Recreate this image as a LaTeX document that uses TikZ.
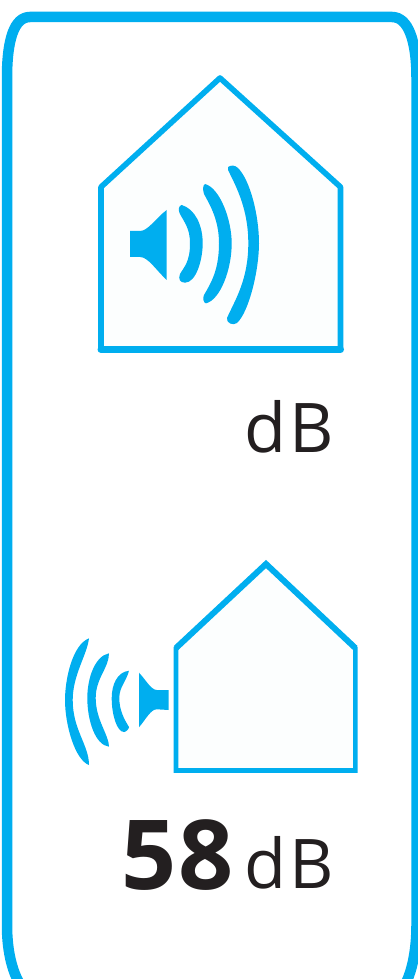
\documentclass[tikz,border=0pt]{standalone}
\usepackage{fontspec}
\usepackage{xcolor}
\setmainfont{Open Sans}
\definecolor{soundblue}{HTML}{00AEEF}
\definecolor{housefill}{HTML}{FCFEFE}
\definecolor{inktext}{HTML}{231F20}

\begin{document}
\begin{tikzpicture}[x=0.02cm, y=-0.02cm]
  \useasboundingbox (0,0) rectangle (418,979);
  \clip (0,0) rectangle (418,979);
  % outer frame, runs off the bottom and right edge
  \draw[soundblue, line width=10.5*0.02cm]
        (30,17) -- (392,17)
        .. controls (408,17) and (416.5,40) .. (416.5,78)
        -- (416.5,925)
        .. controls (416.5,960) and (408,990) .. (392,1000)
        -- (34,1000)
        .. controls (19,990) and (7,965) .. (7,925)
        -- (7,78)
        .. controls (7,40) and (14,17) .. (30,17) -- cycle;
  % upper house
  \draw[soundblue, fill=housefill, line width=5.6*0.02cm, line join=round]
        (220,78) -- (340.5,187) -- (340.5,349.5) -- (101,349.5) -- (101,187) -- cycle;
  \draw[soundblue, line width=7*0.02cm, line cap=round] (101,349.5) -- (340.5,349.5);
  % loudspeaker inside
  \fill[soundblue] (130,231) -- (140,231) .. controls (148,231) and (156,218) .. (166.7,210)
        -- (166.7,280) .. controls (156,270) and (148,257) .. (140,257) -- (130,257) -- cycle;
  \fill[soundblue] (181.7,205) .. controls (195,209) and (202.7,225) .. (202.7,243.3)
        .. controls (202.7,260) and (196,282.7) .. (185,282.7)
        .. controls (180,282.7) and (178,279) .. (180,274)
        .. controls (184,267) and (190,262) .. (190,243.3)
        .. controls (190,228) and (184,222) .. (179.5,213)
        .. controls (178,209) and (179,205.5) .. (181.7,205) -- cycle;
  \fill[soundblue] (205,184) .. controls (220,188) and (231.7,220) .. (231.7,243.3)
        .. controls (231.7,270) and (220,300) .. (206,303.3)
        .. controls (203.5,303.3) and (202.5,298) .. (204,295)
        .. controls (211,283) and (219,270) .. (219,243.3)
        .. controls (219,220) and (210,205) .. (204,194)
        .. controls (202.5,189) and (203,185) .. (205,184) -- cycle;
  \fill[soundblue] (228,167) .. controls (231,165) and (235,165) .. (238,168)
        .. controls (250,180) and (259,215) .. (259,243.3)
        .. controls (259,270) and (249,312) .. (237,323)
        .. controls (233,326) and (226,323) .. (227,318)
        .. controls (235,300) and (248.3,280) .. (248.3,243.3)
        .. controls (248.3,210) and (237,188) .. (228,170) -- cycle;
  % lower house
  \draw[soundblue, fill=housefill, line width=4.6*0.02cm]
        (266,564) -- (355.3,648) -- (355.3,770.5) -- (176,770.5) -- (176,648) -- cycle;
  \draw[soundblue, line width=6*0.02cm, line join=miter] (176,648) -- (266,564) -- (355.3,648);
  % loudspeaker outside
  \fill[soundblue] (168.7,690) -- (168.7,710) -- (157,709.3)
        .. controls (151,709) and (146,719) .. (139,727.3)
        -- (139,672.7) .. controls (146,680) and (151,690) .. (157,690) -- cycle;
  \fill[soundblue] (129,670.7) .. controls (117,672) and (111.7,685) .. (111.7,698)
        .. controls (111.7,715) and (117,732) .. (124,732)
        .. controls (126,732) and (129,729) .. (129,727)
        .. controls (124,719) and (119.3,710) .. (119.3,698)
        .. controls (119.3,687) and (126,682) .. (129,670.7) -- cycle;
  \fill[soundblue] (109,653.3) .. controls (95,656) and (87.3,678) .. (87.3,698)
        .. controls (87.3,720) and (95,745) .. (109,746.7)
        .. controls (109,735) and (95.7,720) .. (95.7,698)
        .. controls (95.7,678) and (109,668) .. (109,653.3) -- cycle;
  \fill[soundblue] (89,638.3) .. controls (72,645) and (65,680) .. (65,700)
        .. controls (65,725) and (75,760) .. (89,765)
        .. controls (89,745) and (72.7,730) .. (72.7,700)
        .. controls (72.7,675) and (87,655) .. (89,638.3) -- cycle;
  % labels
  \node[anchor=base west, inner sep=0pt, text=inktext, font=\fontsize{39}{39}\selectfont] (upperunit) at (244,452) {d\kern2pt B};
  \node[anchor=base west, inner sep=0pt, text=inktext, font=\fontsize{55}{55}\selectfont\bfseries] (leveltext) at (121,889) {5\kern1pt 8};
  \node[anchor=base west, inner sep=0pt, text=inktext, font=\fontsize{39}{39}\selectfont] (lowerunit) at (244,888) {d\kern2pt B};
\end{tikzpicture}
\end{document}
